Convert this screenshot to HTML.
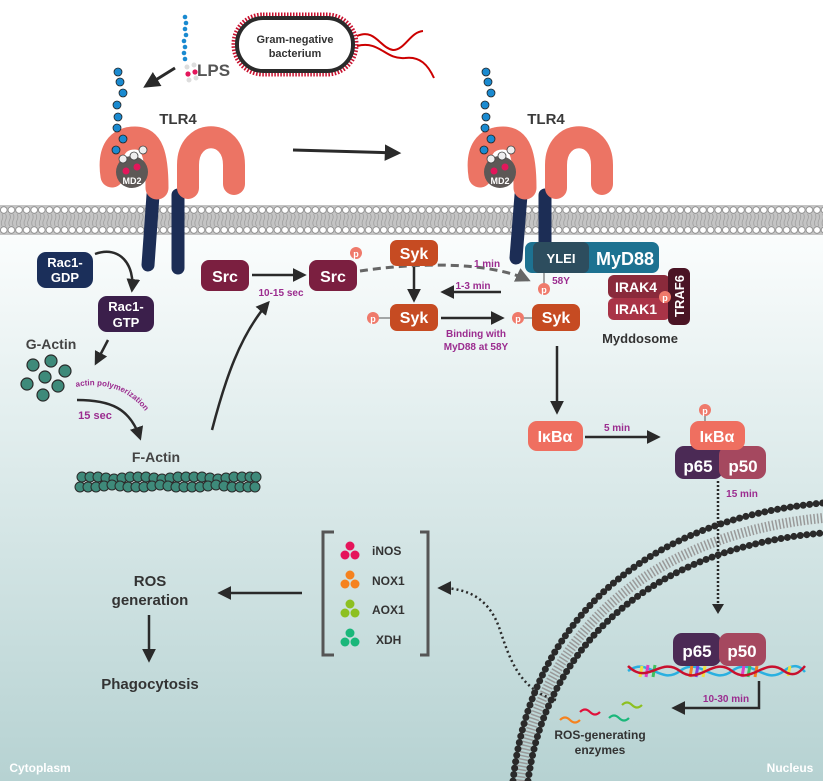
<!DOCTYPE html>
<html><head><meta charset="utf-8"><style>
html,body{margin:0;padding:0;background:#fff}
svg{display:block}
text{font-family:"Liberation Sans",sans-serif;font-weight:bold}
</style></head><body>
<svg width="823" height="781" viewBox="0 0 823 781" xmlns="http://www.w3.org/2000/svg">
<defs>
<linearGradient id="bg" x1="0" y1="0" x2="0" y2="1">
<stop offset="0" stop-color="#fbfdfd"/><stop offset="0.35" stop-color="#e2eeee"/><stop offset="1" stop-color="#b6d2d2"/>
</linearGradient>
<pattern id="mem" x="0" y="205" width="7.6" height="30" patternUnits="userSpaceOnUse">
<rect width="7.6" height="30" fill="#c4c4c4"/>
<path d="M2,9 q1.5,3 0,6 q-1.5,3 0,6 M5.6,9 q1.5,3 0,6 q-1.5,3 0,6" stroke="#999" fill="none" stroke-width="0.7"/>
<circle cx="3.8" cy="5" r="3.3" fill="#fff" stroke="#888" stroke-width="0.8"/>
<circle cx="3.8" cy="25" r="3.3" fill="#fff" stroke="#888" stroke-width="0.8"/>
</pattern>
<marker id="ah" viewBox="0 0 10 10" refX="8" refY="5" markerWidth="5.5" markerHeight="5.5" orient="auto"><path d="M0,0 L10,5 L0,10 z" fill="#2a2a2a"/></marker>
<marker id="ahg" viewBox="0 0 10 10" refX="8" refY="5" markerWidth="5" markerHeight="5" orient="auto"><path d="M0,0 L10,5 L0,10 z" fill="#666"/></marker>
<g id="tlr">
<path d="M112,176 C108,150 118,138 135,138 C152,138 157,155 157,188" stroke="#ec7464" stroke-width="23" fill="none" stroke-linecap="round"/>
<path d="M188,188 L188,165 C188,128 234,128 234,165 L234,184" stroke="#ec7464" stroke-width="22" fill="none" stroke-linecap="round"/>
<circle cx="132" cy="172" r="16" fill="#5d5856"/>
<text x="132" y="184" font-size="9" fill="#fff" text-anchor="middle">MD2</text>
<g fill="#1a8ad0" stroke="#222" stroke-width="0.8">
<circle cx="118" cy="72" r="4"/><circle cx="120" cy="82" r="4"/><circle cx="123" cy="93" r="4"/><circle cx="117" cy="105" r="4"/><circle cx="118" cy="117" r="4"/><circle cx="117" cy="128" r="4"/><circle cx="123" cy="139" r="4"/><circle cx="116" cy="150" r="4"/></g>
<g fill="#eee" stroke="#444" stroke-width="0.8"><circle cx="123" cy="159" r="4"/><circle cx="134" cy="156" r="4"/><circle cx="143" cy="150" r="4"/></g>
<circle cx="126" cy="171" r="3.5" fill="#e3165b"/><circle cx="137" cy="167" r="3.5" fill="#e3165b"/>
<text x="178" y="124" font-size="15" fill="#3a3a3a" text-anchor="middle">TLR4</text>
</g>
</defs>
<rect x="0" y="232" width="823" height="549" fill="url(#bg)"/>
<rect x="0" y="205" width="823" height="30" fill="url(#mem)"/>
<!-- LPS top -->
<g fill="#1a8ad0"><circle cx="185" cy="17" r="2.3"/><circle cx="186" cy="23" r="2.3"/><circle cx="185" cy="29" r="2.3"/><circle cx="186" cy="35" r="2.3"/><circle cx="184" cy="41" r="2.3"/><circle cx="185" cy="47" r="2.3"/><circle cx="184" cy="53" r="2.3"/><circle cx="185" cy="59" r="2.3"/></g>
<g fill="#ddd"><circle cx="187" cy="67" r="2.5"/><circle cx="194" cy="65" r="2.5"/><circle cx="196" cy="78" r="2.5"/><circle cx="189" cy="80" r="2.5"/></g>
<circle cx="188" cy="74" r="2.6" fill="#e3165b"/><circle cx="195" cy="72" r="2.6" fill="#e3165b"/>
<text x="197" y="76" font-size="17" fill="#555">LPS</text>
<line x1="175" y1="68" x2="146" y2="86" stroke="#2a2a2a" stroke-width="3" marker-end="url(#ah)"/>
<!-- bacterium -->
<rect x="235" y="16" width="120" height="57" rx="28" fill="#fff" stroke="#c8102e" stroke-width="7" stroke-dasharray="1.5 1.5"/>
<rect x="237" y="18" width="116" height="53" rx="26" fill="#fff" stroke="#2a2a2a" stroke-width="4"/>
<text x="295" y="43" font-size="11" fill="#333" text-anchor="middle">Gram-negative</text>
<text x="295" y="57" font-size="11" fill="#333" text-anchor="middle">bacterium</text>
<path d="M357,36 C375,28 380,48 393,50 C405,50 410,32 423,31" stroke="#c00" stroke-width="2" fill="none"/>
<path d="M357,46 C380,40 385,60 405,58 C420,56 428,65 434,78" stroke="#c00" stroke-width="2" fill="none"/>
<!-- TLR4 stems -->
<path d="M153,195 L148,265 M178,195 L178,268" stroke="#1c2d55" stroke-width="13" stroke-linecap="round"/>
<path d="M521,195 L516,258 M545,195 L545,262" stroke="#1c2d55" stroke-width="13" stroke-linecap="round"/>
<use href="#tlr"/>
<use href="#tlr" transform="translate(368,0)"/>
<line x1="293" y1="150" x2="398" y2="153" stroke="#2a2a2a" stroke-width="3" marker-end="url(#ah)"/>
<!-- Rac1 -->
<rect x="37" y="252" width="56" height="36" rx="9" fill="#1b2f5a"/>
<text x="65" y="267" font-size="13" fill="#fff" text-anchor="middle">Rac1-</text><text x="65" y="282" font-size="13" fill="#fff" text-anchor="middle">GDP</text>
<rect x="98" y="296" width="56" height="36" rx="9" fill="#3b1f4b"/>
<text x="126" y="311" font-size="13" fill="#fff" text-anchor="middle">Rac1-</text><text x="126" y="327" font-size="13" fill="#fff" text-anchor="middle">GTP</text>
<path d="M95,254 C120,245 135,265 132,290" stroke="#2a2a2a" stroke-width="2.5" fill="none" marker-end="url(#ah)"/>
<line x1="108" y1="340" x2="96" y2="363" stroke="#2a2a2a" stroke-width="2.5" marker-end="url(#ah)"/>
<text x="51" y="349" font-size="14" fill="#444" text-anchor="middle">G-Actin</text>
<g fill="#3e8a7a" stroke="#2a2a2a" stroke-width="1.2"><circle cx="33" cy="365" r="6"/><circle cx="51" cy="361" r="6"/><circle cx="65" cy="371" r="6"/><circle cx="45" cy="377" r="6"/><circle cx="27" cy="384" r="6"/><circle cx="58" cy="386" r="6"/><circle cx="43" cy="395" r="6"/></g>
<path d="M77,400 C110,400 130,408 140,438" stroke="#2a2a2a" stroke-width="2.5" fill="none" marker-end="url(#ah)"/>
<text x="95" y="419" font-size="11" fill="#9b2c8f" text-anchor="middle">15 sec</text>
<path id="ap" d="M76,387 C110,380 140,395 153,425" fill="none"/>
<text font-size="8" fill="#9b2c8f"><textPath href="#ap">actin polymerization</textPath></text>
<text x="156" y="462" font-size="14" fill="#444" text-anchor="middle">F-Actin</text>
<g fill="#3e8a7a" stroke="#2a2a2a" stroke-width="1">
<circle cx="82" cy="477" r="5"/><circle cx="90" cy="477" r="5"/><circle cx="98" cy="477" r="5"/><circle cx="106" cy="478" r="5"/><circle cx="114" cy="479" r="5"/><circle cx="122" cy="478" r="5"/><circle cx="130" cy="477" r="5"/><circle cx="138" cy="477" r="5"/><circle cx="146" cy="477" r="5"/><circle cx="154" cy="478" r="5"/><circle cx="162" cy="479" r="5"/><circle cx="170" cy="478" r="5"/><circle cx="178" cy="477" r="5"/><circle cx="186" cy="477" r="5"/><circle cx="194" cy="477" r="5"/><circle cx="202" cy="477" r="5"/><circle cx="210" cy="478" r="5"/><circle cx="218" cy="479" r="5"/><circle cx="226" cy="478" r="5"/><circle cx="234" cy="477" r="5"/><circle cx="242" cy="477" r="5"/><circle cx="250" cy="477" r="5"/><circle cx="256" cy="477" r="5"/>
<circle cx="80" cy="487" r="5"/><circle cx="88" cy="487" r="5"/><circle cx="96" cy="487" r="5"/><circle cx="104" cy="486" r="5"/><circle cx="112" cy="485" r="5"/><circle cx="120" cy="486" r="5"/><circle cx="128" cy="487" r="5"/><circle cx="136" cy="487" r="5"/><circle cx="144" cy="487" r="5"/><circle cx="152" cy="486" r="5"/><circle cx="160" cy="485" r="5"/><circle cx="168" cy="486" r="5"/><circle cx="176" cy="487" r="5"/><circle cx="184" cy="487" r="5"/><circle cx="192" cy="487" r="5"/><circle cx="200" cy="487" r="5"/><circle cx="208" cy="486" r="5"/><circle cx="216" cy="485" r="5"/><circle cx="224" cy="486" r="5"/><circle cx="232" cy="487" r="5"/><circle cx="240" cy="487" r="5"/><circle cx="248" cy="487" r="5"/><circle cx="255" cy="487" r="5"/></g>
<path d="M212,430 C225,380 240,335 268,303" stroke="#2a2a2a" stroke-width="2.5" fill="none" marker-end="url(#ah)"/>
<!-- Src -->
<rect x="201" y="260" width="48" height="31" rx="8" fill="#7b1f40"/><text x="225" y="282" font-size="16" fill="#fff" text-anchor="middle">Src</text>
<rect x="309" y="260" width="48" height="31" rx="8" fill="#7b1f40"/><text x="333" y="282" font-size="16" fill="#fff" text-anchor="middle">Src</text>
<line x1="252" y1="275" x2="304" y2="275" stroke="#2a2a2a" stroke-width="2.5" marker-end="url(#ah)"/>
<text x="281" y="296" font-size="10" fill="#9b2c8f" text-anchor="middle">10-15 sec</text>
<circle cx="356" cy="253" r="6" fill="#ef7a6b"/><text x="356" y="257" font-size="9" fill="#fff" text-anchor="middle">p</text>
<!-- Syk -->
<path d="M360,271 C420,262 490,262 528,280" stroke="#666" stroke-width="3" stroke-dasharray="8 5" fill="none" marker-end="url(#ahg)"/>
<text x="487" y="267" font-size="10" fill="#9b2c8f" text-anchor="middle">1 min</text>
<rect x="390" y="240" width="48" height="26" rx="7" fill="#c64b22"/><text x="414" y="259" font-size="16" fill="#fff" text-anchor="middle">Syk</text>
<line x1="414" y1="267" x2="414" y2="300" stroke="#2a2a2a" stroke-width="2.5" marker-end="url(#ah)"/>
<line x1="501" y1="292" x2="443" y2="292" stroke="#2a2a2a" stroke-width="2.5" marker-end="url(#ah)"/>
<text x="473" y="289" font-size="10" fill="#9b2c8f" text-anchor="middle">1-3 min</text>
<rect x="390" y="304" width="48" height="27" rx="7" fill="#c64b22"/><text x="414" y="323" font-size="16" fill="#fff" text-anchor="middle">Syk</text>
<circle cx="373" cy="318" r="6" fill="#ef7a6b"/><text x="373" y="322" font-size="9" fill="#fff" text-anchor="middle">p</text><line x1="379" y1="318" x2="390" y2="318" stroke="#555"/>
<line x1="441" y1="318" x2="502" y2="318" stroke="#2a2a2a" stroke-width="2.5" marker-end="url(#ah)"/>
<text x="476" y="337" font-size="10" fill="#9b2c8f" text-anchor="middle">Binding with</text>
<text x="476" y="350" font-size="10" fill="#9b2c8f" text-anchor="middle">MyD88 at 58Y</text>
<rect x="532" y="304" width="48" height="27" rx="7" fill="#c64b22"/><text x="556" y="323" font-size="16" fill="#fff" text-anchor="middle">Syk</text>
<circle cx="518" cy="318" r="6" fill="#ef7a6b"/><text x="518" y="322" font-size="9" fill="#fff" text-anchor="middle">p</text><line x1="524" y1="318" x2="532" y2="318" stroke="#555"/>
<!-- MyD88 -->
<rect x="525" y="242" width="134" height="31" rx="7" fill="#1d7291"/>
<rect x="533" y="242" width="56" height="31" rx="6" fill="#2d4d5e"/>
<text x="561" y="263" font-size="13" fill="#fff" text-anchor="middle" font-weight="normal">YLEI</text>
<text x="625" y="265" font-size="18" fill="#fff" text-anchor="middle">MyD88</text>
<line x1="544" y1="273" x2="544" y2="283" stroke="#555"/>
<circle cx="544" cy="289" r="6" fill="#ef7a6b"/><text x="544" y="293" font-size="9" fill="#fff" text-anchor="middle">p</text>
<text x="561" y="284" font-size="10" fill="#9b2c8f" text-anchor="middle">58Y</text>
<rect x="608" y="275" width="62" height="23" rx="6" fill="#8a2a3b"/><text x="636" y="292" font-size="14" fill="#fff" text-anchor="middle">IRAK4</text>
<rect x="608" y="298" width="62" height="22" rx="6" fill="#a93447"/><text x="636" y="314" font-size="14" fill="#fff" text-anchor="middle">IRAK1</text>
<rect x="668" y="268" width="22" height="57" rx="6" fill="#4a1424"/>
<text transform="translate(684,296) rotate(-90)" font-size="13" fill="#fff" text-anchor="middle">TRAF6</text>
<circle cx="665" cy="297" r="6" fill="#ef7a6b"/><text x="665" y="301" font-size="9" fill="#fff" text-anchor="middle">p</text>
<text x="640" y="343" font-size="13" fill="#333" text-anchor="middle">Myddosome</text>
<!-- IkBa -->
<line x1="557" y1="346" x2="557" y2="412" stroke="#2a2a2a" stroke-width="2.5" marker-end="url(#ah)"/>
<rect x="528" y="421" width="55" height="30" rx="9" fill="#ef6f60"/><text x="555" y="442" font-size="16" fill="#fff" text-anchor="middle" font-weight="normal">IκBα</text>
<line x1="585" y1="437" x2="658" y2="437" stroke="#2a2a2a" stroke-width="2.5" marker-end="url(#ah)"/>
<text x="617" y="431" font-size="10" fill="#9b2c8f" text-anchor="middle">5 min</text>
<line x1="705" y1="414" x2="705" y2="421" stroke="#555"/>
<circle cx="705" cy="410" r="6" fill="#ef7a6b"/><text x="705" y="414" font-size="9" fill="#fff" text-anchor="middle">p</text>
<rect x="675" y="446" width="48" height="33" rx="9" fill="#4b2a55"/>
<rect x="719" y="446" width="47" height="33" rx="9" fill="#a5485f"/>
<rect x="690" y="421" width="55" height="29" rx="9" fill="#ef6f60"/><text x="717" y="442" font-size="16" fill="#fff" text-anchor="middle" font-weight="normal">IκBα</text>
<text x="698" y="472" font-size="17" fill="#fff" text-anchor="middle">p65</text><text x="743" y="472" font-size="17" fill="#fff" text-anchor="middle">p50</text>
<!-- nuclear membrane -->
<path d="M520,781 C538,640 645,535 823,518" stroke="#999" stroke-width="10" fill="none" stroke-dasharray="1.5 2"/>
<path d="M513,781 C530,625 640,520 823,503" stroke="#2a2a2a" stroke-width="7" stroke-linecap="round" stroke-dasharray="0 6.5" fill="none"/>
<path d="M528,781 C546,645 652,548 823,533" stroke="#2a2a2a" stroke-width="7" stroke-linecap="round" stroke-dasharray="0 6.5" fill="none"/>
<line x1="718" y1="481" x2="718" y2="606" stroke="#2a2a2a" stroke-width="2.5" stroke-dasharray="2 2"/>
<path d="M712,604 L724,604 L718,614 z" fill="#2a2a2a"/>
<text x="742" y="497" font-size="10" fill="#9b2c8f" text-anchor="middle">15 min</text>
<!-- DNA -->
<path d="M628,671 C648,656 660,686 680,671 C700,656 712,686 732,671 C752,656 764,686 784,671 C794,663 800,666 805,672" stroke="#2ab0e0" stroke-width="2.5" fill="none"/>
<g stroke-width="3"><line x1="642" y1="666" x2="640" y2="677" stroke="#f0e040"/><line x1="648" y1="665" x2="646" y2="677" stroke="#e040c0"/><line x1="655" y1="665" x2="653" y2="677" stroke="#40c060"/><line x1="692" y1="665" x2="690" y2="677" stroke="#f08020"/><line x1="698" y1="665" x2="696" y2="677" stroke="#8040e0"/><line x1="705" y1="666" x2="703" y2="677" stroke="#f0e040"/><line x1="744" y1="665" x2="742" y2="677" stroke="#e040c0"/><line x1="750" y1="665" x2="748" y2="677" stroke="#40c060"/><line x1="757" y1="666" x2="755" y2="677" stroke="#f08020"/><line x1="790" y1="666" x2="788" y2="676" stroke="#f0e040"/></g>
<path d="M628,666 C648,686 660,656 680,671 C700,686 712,656 732,671 C752,686 764,656 784,671 C794,678 800,672 805,666" stroke="#c8102e" stroke-width="2.5" fill="none"/>
<rect x="673" y="633" width="48" height="33" rx="9" fill="#4b2a55"/>
<rect x="719" y="633" width="47" height="33" rx="9" fill="#a5485f"/>
<text x="697" y="657" font-size="17" fill="#fff" text-anchor="middle">p65</text><text x="742" y="657" font-size="17" fill="#fff" text-anchor="middle">p50</text>
<path d="M759,681 L759,708 L674,708" stroke="#2a2a2a" stroke-width="2.5" fill="none" marker-end="url(#ah)"/>
<text x="726" y="702" font-size="10" fill="#9b2c8f" text-anchor="middle">10-30 min</text>
<g fill="none" stroke-width="2.2"><path d="M580,712 q5,-5 10,0 t10,0" stroke="#e0103a"/><path d="M622,705 q5,-5 10,0 t10,0" stroke="#8dc021"/><path d="M560,720 q5,-5 10,0 t10,0" stroke="#f5821f"/><path d="M609,718 q5,-5 10,0 t10,0" stroke="#1ab77a"/></g>
<text x="600" y="739" font-size="12" fill="#333" text-anchor="middle">ROS-generating</text>
<text x="600" y="754" font-size="12" fill="#333" text-anchor="middle">enzymes</text>
<path d="M556,700 C520,690 510,660 500,630 C490,600 470,588 440,588" stroke="#2a2a2a" stroke-width="2.5" stroke-dasharray="2 3" fill="none" marker-end="url(#ah)"/>
<!-- bracket -->
<path d="M334,532 L323,532 L323,655 L334,655 M420,532 L428,532 L428,655 L420,655" stroke="#555" stroke-width="3" fill="none"/>
<g><circle cx="350" cy="546" r="4.5" fill="#e5145a"/><circle cx="345" cy="555" r="4.5" fill="#e5145a"/><circle cx="355" cy="555" r="4.5" fill="#e5145a"/>
<circle cx="350" cy="575" r="4.5" fill="#f5821f"/><circle cx="345" cy="584" r="4.5" fill="#f5821f"/><circle cx="355" cy="584" r="4.5" fill="#f5821f"/>
<circle cx="350" cy="604" r="4.5" fill="#8dc021"/><circle cx="345" cy="613" r="4.5" fill="#8dc021"/><circle cx="355" cy="613" r="4.5" fill="#8dc021"/>
<circle cx="350" cy="633" r="4.5" fill="#1ab77a"/><circle cx="345" cy="642" r="4.5" fill="#1ab77a"/><circle cx="355" cy="642" r="4.5" fill="#1ab77a"/></g>
<g font-size="12" fill="#333"><text x="372" y="555">iNOS</text><text x="372" y="585">NOX1</text><text x="372" y="614">AOX1</text><text x="376" y="644">XDH</text></g>
<line x1="302" y1="593" x2="220" y2="593" stroke="#2a2a2a" stroke-width="2.5" marker-end="url(#ah)"/>
<text x="150" y="586" font-size="15" fill="#333" text-anchor="middle">ROS</text>
<text x="150" y="605" font-size="15" fill="#333" text-anchor="middle">generation</text>
<line x1="149" y1="615" x2="149" y2="660" stroke="#2a2a2a" stroke-width="2.5" marker-end="url(#ah)"/>
<text x="150" y="689" font-size="15" fill="#333" text-anchor="middle">Phagocytosis</text>
<text x="40" y="772" font-size="12" fill="#fff" text-anchor="middle">Cytoplasm</text>
<text x="790" y="772" font-size="12" fill="#fff" text-anchor="middle">Nucleus</text>
</svg>
</body></html>
